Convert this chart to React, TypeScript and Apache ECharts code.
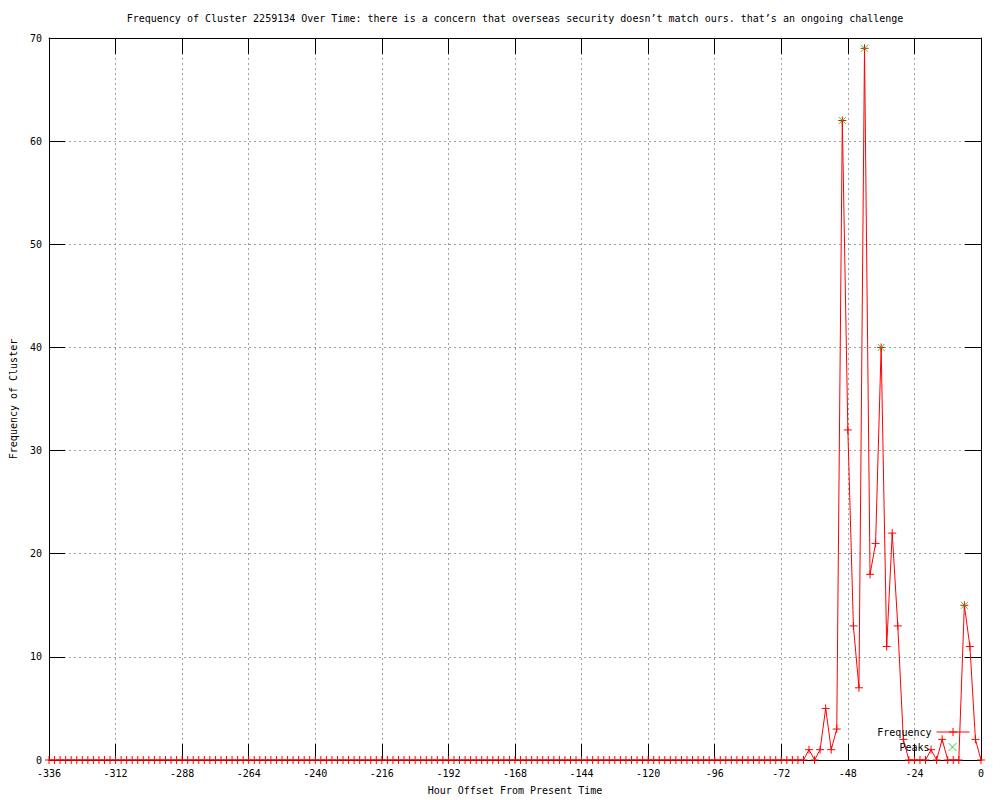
import React, { useEffect, useRef } from "react";
import * as echarts from "echarts";

const TITLE =
  "Frequency of Cluster 2259134 Over Time: there is a concern that overseas security doesn’t match ours. that’s an ongoing challenge";
const X_NAME = "Hour Offset From Present Time";
const Y_NAME = "Frequency of Cluster";
const FREQ_NAME = "Frequency";
const PEAK_NAME = "Peaks";

const FIRST_HOUR = -336;
const STEP_HOURS = 2;

// One row = 24 hours (12 samples, every 2 hours), starting at -336, plus the final sample at 0
const frequency = [
  0, 0, 0, 0, 0, 0, 0, 0, 0, 0, 0, 0, // -336 .. -314
  0, 0, 0, 0, 0, 0, 0, 0, 0, 0, 0, 0, // -312 .. -290
  0, 0, 0, 0, 0, 0, 0, 0, 0, 0, 0, 0, // -288 .. -266
  0, 0, 0, 0, 0, 0, 0, 0, 0, 0, 0, 0, // -264 .. -242
  0, 0, 0, 0, 0, 0, 0, 0, 0, 0, 0, 0, // -240 .. -218
  0, 0, 0, 0, 0, 0, 0, 0, 0, 0, 0, 0, // -216 .. -194
  0, 0, 0, 0, 0, 0, 0, 0, 0, 0, 0, 0, // -192 .. -170
  0, 0, 0, 0, 0, 0, 0, 0, 0, 0, 0, 0, // -168 .. -146
  0, 0, 0, 0, 0, 0, 0, 0, 0, 0, 0, 0, // -144 .. -122
  0, 0, 0, 0, 0, 0, 0, 0, 0, 0, 0, 0, // -120 .. -98
  0, 0, 0, 0, 0, 0, 0, 0, 0, 0, 0, 0, // -96 .. -74
  0, 0, 0, 0, 0, 1, 0, 1, 5, 1, 3, 62, // -72 .. -50
  32, 13, 7, 69, 18, 21, 40, 11, 22, 13, 2, 0, // -48 .. -26
  0, 0, 0, 1, 0, 2, 0, 0, 0, 15, 11, 2, // -24 .. -2
  0, // 0
];

const peakHours = [-50, -42, -36, -6];
const peakValues = [62, 69, 40, 15];

const X_MIN = -336;
const X_MAX = 0;
const X_STEP = 24;
const Y_MIN = 0;
const Y_MAX = 70;
const Y_STEP = 10;

const FONT = "'DejaVu Sans Mono', 'Liberation Mono', monospace";
const PLUS = "path://M0,5L10,5M5,0L5,10";
const CROSS = "path://M0,0L10,10M10,0L0,10";
const RED = "#ff0000";
const GREEN = "#00c000";

export default function App() {
  const ref = useRef<HTMLDivElement>(null);

  useEffect(() => {
    if (!ref.current) return;
    const chart = echarts.init(ref.current, null, { renderer: "svg" });

    const freqData = frequency.map((v, i) => [FIRST_HOUR + STEP_HOURS * i, v]);
    const peakData = peakHours.map((h, i) => [h, peakValues[i]]);

    const textStyle = { color: "#000", fontFamily: FONT, fontSize: 10 };
    const grid = { lineStyle: { color: "#a0a0a0", width: 1, type: [2, 3] } };
    const tick = { show: true, inside: true, length: 16, lineStyle: { color: "#000", width: 1 } };
    const line = { show: true, onZero: false, lineStyle: { color: "#000", width: 1 } };

    chart.setOption({
      animation: false,
      backgroundColor: "#fff",
      graphic: [
        {
          type: "text",
          x: 515,
          y: 18,
          style: {
            text: TITLE,
            align: "center",
            verticalAlign: "middle",
            fill: "#000",
            font: `10px ${FONT}`,
          },
        },
      ],
      grid: { left: 49, right: 19, top: 38, bottom: 40, show: false },
      legend: [
        {
          data: [FREQ_NAME],
          orient: "vertical",
          right: 30,
          top: 727,
          align: "right",
          padding: 0,
          itemWidth: 33,
          itemHeight: 10,
          textStyle: textStyle,
          itemStyle: { borderWidth: 1 },
          lineStyle: { width: 1 },
          selectedMode: false,
        },
        {
          data: [PEAK_NAME],
          orient: "vertical",
          right: 43,
          top: 742,
          align: "right",
          padding: 0,
          itemWidth: 8,
          itemHeight: 8,
          textStyle: { ...textStyle, padding: [0, 14, 0, 0] },
          itemStyle: { borderWidth: 1 },
          selectedMode: false,
        },
      ],
      xAxis: [
        {
          type: "value",
          min: X_MIN,
          max: X_MAX,
          interval: X_STEP,
          position: "bottom",
          axisLine: line,
          axisTick: tick,
          axisLabel: { ...textStyle, margin: 8 },
          splitLine: { show: true, ...grid },
          name: X_NAME,
          nameLocation: "middle",
          nameGap: 25,
          nameTextStyle: textStyle,
        },
        {
          type: "value",
          min: X_MIN,
          max: X_MAX,
          interval: X_STEP,
          position: "top",
          axisLine: line,
          axisTick: tick,
          axisLabel: { show: false },
          splitLine: { show: false },
        },
      ],
      yAxis: [
        {
          type: "value",
          min: Y_MIN,
          max: Y_MAX,
          interval: Y_STEP,
          position: "left",
          axisLine: line,
          axisTick: tick,
          axisLabel: { ...textStyle, margin: 7 },
          splitLine: { show: true, ...grid },
          name: Y_NAME,
          nameLocation: "middle",
          nameGap: 31,
          nameTextStyle: textStyle,
        },
        {
          type: "value",
          min: Y_MIN,
          max: Y_MAX,
          interval: Y_STEP,
          position: "right",
          axisLine: line,
          axisTick: tick,
          axisLabel: { show: false },
          splitLine: { show: false },
        },
      ],
      series: [
        {
          name: FREQ_NAME,
          type: "line",
          xAxisIndex: 0,
          yAxisIndex: 0,
          data: freqData,
          symbol: PLUS,
          symbolSize: 8,
          showAllSymbol: true,
          lineStyle: { color: RED, width: 1 },
          itemStyle: { color: RED, borderColor: RED, borderWidth: 1 },
          emphasis: { disabled: true },
          z: 2,
        },
        {
          name: PEAK_NAME,
          type: "scatter",
          xAxisIndex: 0,
          yAxisIndex: 0,
          data: peakData,
          symbol: CROSS,
          symbolSize: 7,
          itemStyle: { color: GREEN, borderColor: GREEN, borderWidth: 1 },
          emphasis: { disabled: true },
          z: 3,
        },
      ],
    });

    return () => chart.dispose();
  }, []);

  return (
    <div
      ref={ref}
      style={{ position: "absolute", left: 0, top: 0, width: 1000, height: 800, background: "#fff" }}
    />
  );
}
